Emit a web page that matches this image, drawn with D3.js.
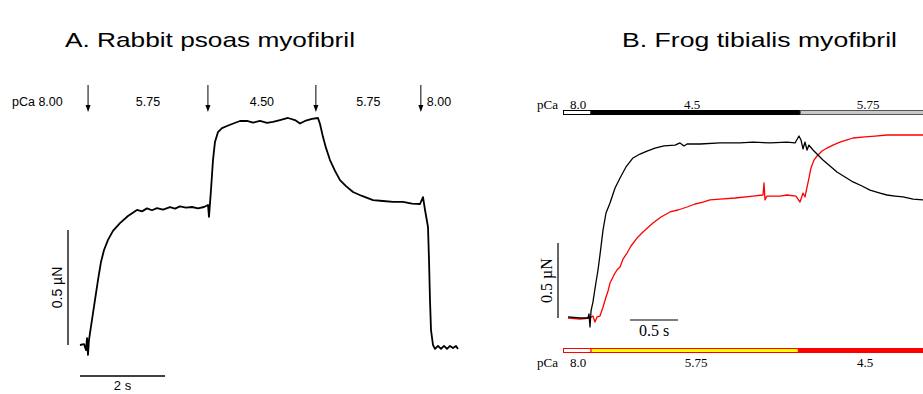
<!DOCTYPE html>
<html>
<head>
<meta charset="utf-8">
<script src="https://cdn.jsdelivr.net/npm/d3@7"></script>
<style>
  body { margin: 0; background: #fff; }
  svg { display: block; }
  .sans { font-family: "Liberation Sans", Arial, sans-serif; }
  .serif { font-family: "Liberation Serif", "Times New Roman", serif; }
</style>
</head>
<body>
<div id="chart"></div>
<script>
// Panel A: rabbit psoas, time (s) and force (uN)
var timeA = [0, 0.094, 0.141, 0.165, 0.188, 0.21, 0.235, 0.282, 0.353, 0.424, 0.494, 0.565, 0.659, 0.776, 0.941, 1.129, 1.341, 1.459, 1.576, 1.694, 1.812, 1.953, 2.118, 2.235, 2.353, 2.494, 2.635, 2.776, 2.918, 3.012, 3.035, 3.082, 3.129, 3.176, 3.247, 3.341, 3.459, 3.576, 3.765, 3.929, 4.071, 4.235, 4.4, 4.541, 4.706, 4.894, 5.059, 5.176, 5.294, 5.459, 5.6, 5.647, 5.718, 5.788, 5.882, 6.0, 6.118, 6.259, 6.424, 6.635, 6.894, 7.129, 7.365, 7.6, 7.812, 8.0, 8.071, 8.118, 8.188, 8.212, 8.235, 8.259, 8.306, 8.353, 8.424, 8.494, 8.565, 8.635, 8.706, 8.776, 8.847, 8.894];
var forceA = [0, 0.004, -0.022, 0.03, -0.043, 0.02, 0.052, 0.109, 0.196, 0.283, 0.361, 0.413, 0.457, 0.496, 0.53, 0.561, 0.587, 0.581, 0.594, 0.586, 0.595, 0.589, 0.599, 0.593, 0.603, 0.597, 0.6, 0.594, 0.6, 0.609, 0.557, 0.674, 0.804, 0.883, 0.926, 0.943, 0.952, 0.961, 0.974, 0.974, 0.967, 0.974, 0.966, 0.97, 0.978, 0.987, 0.978, 0.963, 0.974, 0.983, 0.987, 0.961, 0.904, 0.857, 0.804, 0.757, 0.717, 0.691, 0.665, 0.648, 0.63, 0.626, 0.622, 0.622, 0.615, 0.613, 0.643, 0.587, 0.513, 0.37, 0.196, 0.065, 0, -0.017, -0.004, -0.017, -0.004, -0.017, -0.004, -0.013, -0.004, -0.017];
var switchTimesA = [0.19, 3.01, 5.55, 8.02];
var pcaLabelsA = ["5.75", "4.50", "5.75"];

// Panel B: frog tibialis, two traces
var timeB1 = [0, 0.125, 0.208, 0.219, 0.229, 0.24, 0.26, 0.292, 0.3125, 0.333, 0.365, 0.396, 0.4375, 0.49, 0.542, 0.604, 0.677, 0.75, 0.823, 0.906, 1.0, 1.115, 1.167, 1.208, 1.24, 1.375, 1.583, 1.79, 1.927, 2.104, 2.281, 2.365, 2.406, 2.427, 2.448, 2.469, 2.49, 2.51, 2.552, 2.604, 2.656, 2.729, 2.802, 2.885, 2.969, 3.0625, 3.146, 3.25, 3.323, 3.406, 3.49, 3.594, 3.698];
var forceB1 = [0.007, 0, 0, 0.027, -0.06, 0.047, 0.107, 0.24, 0.32, 0.42, 0.587, 0.7, 0.767, 0.867, 0.933, 1.007, 1.067, 1.093, 1.113, 1.133, 1.147, 1.153, 1.167, 1.147, 1.16, 1.16, 1.167, 1.167, 1.173, 1.167, 1.173, 1.167, 1.213, 1.187, 1.127, 1.173, 1.12, 1.153, 1.12, 1.087, 1.053, 1.013, 0.973, 0.94, 0.907, 0.88, 0.853, 0.833, 0.82, 0.813, 0.807, 0.793, 0.787];
var timeB2 = [0, 0.125, 0.229, 0.26, 0.281, 0.302, 0.333, 0.365, 0.396, 0.417, 0.4375, 0.479, 0.51, 0.542, 0.573, 0.615, 0.656, 0.719, 0.781, 0.885, 0.969, 1.0625, 1.146, 1.24, 1.323, 1.406, 1.479, 1.583, 1.74, 1.927, 2.031, 2.042, 2.052, 2.073, 2.208, 2.281, 2.375, 2.417, 2.448, 2.469, 2.49, 2.51, 2.531, 2.5625, 2.594, 2.646, 2.698, 2.76, 2.833, 2.906, 2.969, 3.094, 3.198, 3.323, 3.51, 3.698];
var forceB2 = [0, -0.007, 0, 0.013, -0.027, 0.007, 0.013, 0.073, 0.14, 0.18, 0.233, 0.287, 0.32, 0.34, 0.393, 0.433, 0.48, 0.533, 0.573, 0.633, 0.673, 0.707, 0.72, 0.74, 0.76, 0.773, 0.787, 0.793, 0.8, 0.813, 0.82, 0.9, 0.787, 0.813, 0.813, 0.82, 0.813, 0.773, 0.833, 0.807, 0.873, 0.933, 1.0, 1.053, 1.08, 1.113, 1.133, 1.153, 1.173, 1.187, 1.2, 1.207, 1.213, 1.22, 1.22, 1.22];
var topBarStarts = [-0.05, 0.24, 2.42];
var topBarEnds = [0.24, 2.42, 4.0];
var topBarLabels = ["8.0", "4.5", "5.75"];
var bottomBarStarts = [-0.05, 0.24, 2.40];
var bottomBarEnds = [0.24, 2.40, 4.0];
var bottomBarLabels = ["8.0", "5.75", "4.5"];

var svgWidth = 923, svgHeight = 394;

var svg = d3.select("#chart")
    .append("svg")
    .attr("width", svgWidth)
    .attr("height", svgHeight);

// ---------- Panel A ----------
var xA = d3.scaleLinear().domain([0, 2]).range([80, 165]);
var yA = d3.scaleLinear().domain([0, 0.5]).range([345, 230]);

var gA = svg.append("g").attr("class", "sans");

gA.append("text")
    .attr("x", 65)
    .attr("y", 47)
    .attr("font-size", 21)
    .attr("textLength", 290)
    .attr("lengthAdjust", "spacingAndGlyphs")
    .text("A. Rabbit psoas myofibril");

var lineA = d3.line()
    .x((d, i) => xA(timeA[i]))
    .y(d => yA(d));

gA.append("path")
    .datum(forceA)
    .attr("fill", "none")
    .attr("stroke", "#000")
    .attr("stroke-width", 1.8)
    .attr("stroke-linejoin", "round")
    .attr("d", lineA);

// solution exchange arrows
var arrowTop = 85, arrowBottom = 112;
switchTimesA.forEach(function(t) {
    var x = xA(t);
    gA.append("line")
        .attr("x1", x).attr("x2", x)
        .attr("y1", arrowTop).attr("y2", arrowBottom - 5)
        .attr("stroke", "#000").attr("stroke-width", 1);
    gA.append("path")
        .attr("d", `M${x - 2.5},${arrowBottom - 7} L${x + 2.5},${arrowBottom - 7} L${x},${arrowBottom} Z`)
        .attr("fill", "#000");
});

gA.append("text")
    .attr("x", 12).attr("y", 106)
    .attr("font-size", 12.5)
    .text("pCa 8.00");

pcaLabelsA.forEach(function(lbl, i) {
    gA.append("text")
        .attr("x", (xA(switchTimesA[i]) + xA(switchTimesA[i + 1])) / 2)
        .attr("y", 106)
        .attr("text-anchor", "middle")
        .attr("font-size", 12.5)
        .text(lbl);
});

gA.append("text")
    .attr("x", xA(switchTimesA[3]) + 6).attr("y", 106)
    .attr("font-size", 12.5)
    .text("8.00");

// scale bars
gA.append("line")
    .attr("x1", 68).attr("x2", 68)
    .attr("y1", yA(0)).attr("y2", yA(0.5))
    .attr("stroke", "#000").attr("stroke-width", 1.3);
gA.append("text")
    .attr("transform", `translate(62, ${(yA(0) + yA(0.5)) / 2}) rotate(-90)`)
    .attr("text-anchor", "middle")
    .attr("font-size", 14)
    .text("0.5 µN");

gA.append("line")
    .attr("x1", xA(0)).attr("x2", xA(2))
    .attr("y1", 376).attr("y2", 376)
    .attr("stroke", "#000").attr("stroke-width", 1.3);
gA.append("text")
    .attr("x", (xA(0) + xA(2)) / 2).attr("y", 390)
    .attr("text-anchor", "middle")
    .attr("font-size", 13)
    .text("2 s");

// ---------- Panel B ----------
var xB = d3.scaleLinear().domain([0, 0.5]).range([568, 616]);
var yB = d3.scaleLinear().domain([0, 0.5]).range([318, 243]);

svg.append("text")
    .attr("class", "sans")
    .attr("x", 622)
    .attr("y", 47)
    .attr("font-size", 21)
    .attr("textLength", 275)
    .attr("lengthAdjust", "spacingAndGlyphs")
    .text("B. Frog tibialis myofibril");

var gB = svg.append("g").attr("class", "serif");

svg.append("clipPath").attr("id", "clipB")
    .append("rect").attr("x", 520).attr("y", 60).attr("width", 403).attr("height", 334);

var plotB = gB.append("g").attr("clip-path", "url(#clipB)");

var lineB1 = d3.line().x((d, i) => xB(timeB1[i])).y(d => yB(d));
var lineB2 = d3.line().x((d, i) => xB(timeB2[i])).y(d => yB(d));

plotB.append("path")
    .datum(forceB2)
    .attr("fill", "none")
    .attr("stroke", "#ff0000")
    .attr("stroke-width", 1.3)
    .attr("stroke-linejoin", "round")
    .attr("d", lineB2);

plotB.append("path")
    .datum(forceB1)
    .attr("fill", "none")
    .attr("stroke", "#000")
    .attr("stroke-width", 1.3)
    .attr("stroke-linejoin", "round")
    .attr("d", lineB1);

// top pCa bar (black trace)
var topFill = ["#fff", "#000", "#c8c8c8"];
var topStroke = ["#000", "#000", "#555"];
topBarStarts.forEach(function(s, i) {
    var x0 = Math.max(xB(s), 563.5);
    plotB.append("rect")
        .attr("x", x0).attr("y", 110.5)
        .attr("width", xB(topBarEnds[i]) - x0).attr("height", 4)
        .attr("fill", topFill[i])
        .attr("stroke", topStroke[i])
        .attr("stroke-width", 1);
});
gB.append("text").attr("x", 537).attr("y", 109).attr("font-size", 13).text("pCa");
gB.append("text").attr("x", 578).attr("y", 109).attr("font-size", 13).attr("text-anchor", "middle").text(topBarLabels[0]);
gB.append("text").attr("x", 692).attr("y", 109).attr("font-size", 13).attr("text-anchor", "middle").text(topBarLabels[1]);
gB.append("text").attr("x", 868).attr("y", 109).attr("font-size", 13).attr("text-anchor", "middle").text(topBarLabels[2]);

// bottom pCa bar (red trace)
var botFill = ["#fff", "#ffff00", "#ff0000"];
bottomBarStarts.forEach(function(s, i) {
    var x0 = Math.max(xB(s), 563.5);
    plotB.append("rect")
        .attr("x", x0).attr("y", 348.5)
        .attr("width", xB(bottomBarEnds[i]) - x0).attr("height", 4)
        .attr("fill", botFill[i])
        .attr("stroke", "#ff0000")
        .attr("stroke-width", 1);
});
gB.append("text").attr("x", 537).attr("y", 367).attr("font-size", 13).text("pCa");
gB.append("text").attr("x", 578).attr("y", 367).attr("font-size", 13).attr("text-anchor", "middle").text(bottomBarLabels[0]);
gB.append("text").attr("x", 696).attr("y", 367).attr("font-size", 13).attr("text-anchor", "middle").text(bottomBarLabels[1]);
gB.append("text").attr("x", 865).attr("y", 367).attr("font-size", 13).attr("text-anchor", "middle").text(bottomBarLabels[2]);

// scale bars B
gB.append("line")
    .attr("x1", 558).attr("x2", 558)
    .attr("y1", yB(0)).attr("y2", yB(0.5))
    .attr("stroke", "#000").attr("stroke-width", 1.2);
gB.append("text")
    .attr("transform", `translate(552, ${(yB(0) + yB(0.5)) / 2}) rotate(-90)`)
    .attr("text-anchor", "middle")
    .attr("font-size", 16)
    .text("0.5 µN");

gB.append("line")
    .attr("x1", 630).attr("x2", 630 + (xB(0.5) - xB(0)))
    .attr("y1", 320).attr("y2", 320)
    .attr("stroke", "#000").attr("stroke-width", 1.2);
gB.append("text")
    .attr("x", 630 + (xB(0.5) - xB(0)) / 2).attr("y", 336)
    .attr("text-anchor", "middle")
    .attr("font-size", 16)
    .text("0.5 s");
</script>
</body>
</html>
